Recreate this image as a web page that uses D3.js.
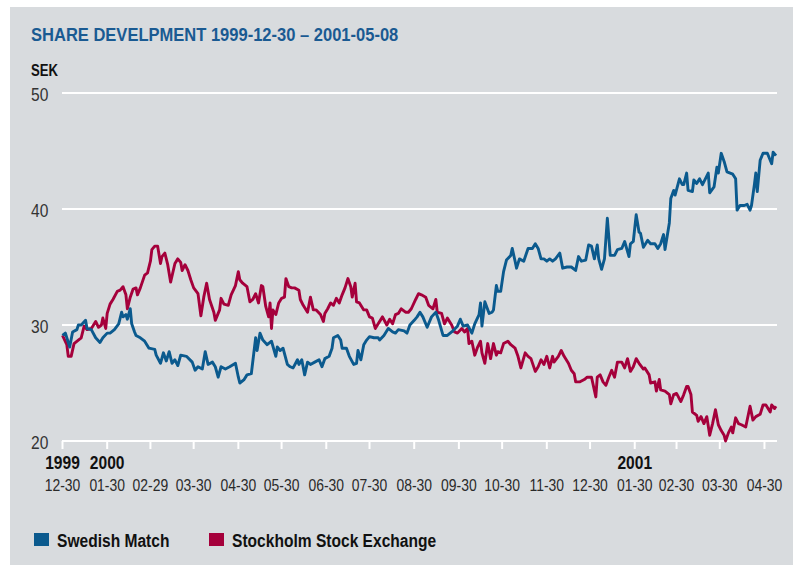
<!DOCTYPE html>
<html><head><meta charset="utf-8">
<script src="https://cdn.jsdelivr.net/npm/d3@7"></script>
<style>
html,body{margin:0;padding:0;background:#fff;}
svg text{font-family:'Liberation Sans',Arial,sans-serif;}
</style></head>
<body><svg id="c" width="793" height="565"></svg>
<script>
// ---- data ----
const startDate = new Date(1999, 11, 30);
const endDate = new Date(2001, 4, 8);
const title = "SHARE DEVELPMENT 1999-12-30 – 2001-05-08";
const unit = "SEK";
const yTicks = [20, 30, 40, 50];
const tickDates = ["1999-12-30","2000-01-30","2000-02-29","2000-03-30","2000-04-30","2000-05-30","2000-06-30","2000-07-30","2000-08-30","2000-09-30","2000-10-30","2000-11-30","2000-12-30","2001-01-30","2001-02-28","2001-03-30","2001-04-30"];
const tickLabels = ["12-30","01-30","02-29","03-30","04-30","05-30","06-30","07-30","08-30","09-30","10-30","11-30","12-30","01-30","02-30","03-30","04-30"];
const yearLabels = [["1999",0],["2000",1],["2001",13]];
const seriesNames = ["Swedish Match","Stockholm Stock Exchange"];

// days since 1999-12-30 and closing values
const smDays = [0,2,5,7,10,11,13,16,17,20,23,26,28,31,33,36,39,41,42,44,45,47,48,50,51,54,57,60,64,65,68,70,72,74,76,78,80,82,86,90,92,94,97,99,101,104,106,108,110,113,116,120,122,123,126,128,131,134,135,137,139,142,145,148,149,151,153,156,158,160,163,164,166,168,170,172,175,178,180,182,185,187,188,191,193,194,197,199,202,204,205,207,209,211,213,216,219,220,223,226,229,231,233,237,239,241,244,246,248,250,253,256,259,261,264,267,270,274,276,278,281,284,286,289,290,291,293,296,298,299,301,302,304,306,308,311,312,314,315,317,320,323,326,328,330,332,334,336,338,340,342,345,347,350,353,356,358,360,363,365,367,369,371,372,374,376,378,380,383,385,388,390,393,394,396,398,400,401,403,406,408,411,413,415,417,418,421,422,424,425,428,430,431,433,434,437,438,440,442,444,446,448,449,452,454,455,457,459,461,465,467,468,470,473,475,477,478,480,481,482,484,486,489,492,493,495];
const smValues = [29.1,29.3,28.1,29.4,29.6,30.0,30.0,30.4,29.7,29.6,28.9,28.5,28.9,29.3,29.3,29.6,30.1,31.1,30.7,30.9,30.5,31.4,30.1,29.4,29.1,28.9,28.6,28.0,27.9,27.4,26.7,27.6,26.9,27.7,26.7,27.0,26.5,27.4,27.3,26.8,26.1,26.4,26.2,27.7,26.6,26.8,26.4,25.5,26.4,26.2,26.4,26.7,25.5,25.0,25.3,25.7,25.8,28.9,27.8,29.3,28.7,28.3,28.6,27.3,28.1,27.8,28.0,26.6,26.4,26.3,27.0,26.6,27.0,25.7,26.8,26.6,26.8,27.0,26.4,27.1,27.3,28.0,28.9,29.1,28.7,28.0,28.0,27.3,26.6,26.7,27.8,27.0,28.3,28.7,29.0,28.9,28.9,28.7,29.1,29.7,29.4,29.3,29.6,29.5,29.3,30.0,30.4,30.7,31.1,30.7,29.8,30.7,31.1,30.4,29.1,29.1,29.4,29.9,30.5,29.9,30.0,29.3,30.1,30.9,31.9,29.9,32.0,31.0,31.1,31.3,33.4,32.9,32.9,34.6,35.6,36.0,36.6,35.5,34.9,35.7,35.5,36.6,36.6,37.0,36.6,35.7,35.7,35.5,35.7,35.5,35.7,36.2,34.9,35.0,35.0,34.7,35.9,35.5,35.6,36.9,36.8,35.7,36.9,35.7,34.8,35.7,39.2,36.0,36.0,36.5,36.6,37.2,35.9,37.0,37.2,39.5,38.0,37.9,36.7,37.3,37.0,37.0,36.6,37.0,37.8,36.5,38.8,40.9,41.6,41.2,42.6,42.1,42.1,43.1,41.6,41.5,42.5,42.2,42.6,42.1,42.6,43.1,41.4,41.9,43.6,43.1,44.8,44.1,43.2,43.0,42.6,39.9,40.3,40.3,40.4,39.9,40.3,42.1,43.1,41.5,44.2,44.8,44.8,43.9,44.9,44.6];

const sseDays = [0,3,4,6,8,11,13,15,17,20,21,23,25,27,28,30,31,33,35,38,40,42,44,45,47,49,51,52,54,57,59,61,62,64,66,68,69,71,73,75,78,80,82,83,85,87,89,91,94,96,98,100,102,105,106,109,110,112,115,117,120,122,123,125,128,130,132,134,136,138,139,141,143,144,145,146,148,150,152,154,155,157,159,161,164,165,167,170,172,174,176,179,181,182,184,186,188,190,192,194,196,198,200,201,203,204,206,209,211,213,215,217,219,222,225,227,229,231,233,235,238,240,242,245,247,249,252,254,257,259,260,263,265,267,270,272,274,277,279,281,282,284,286,288,290,291,293,295,297,299,301,302,304,306,309,311,314,316,318,321,323,325,328,330,332,334,336,338,340,341,344,346,348,351,353,355,356,359,362,364,367,370,371,373,375,377,379,381,383,385,388,390,392,394,396,398,400,403,404,407,408,411,412,414,415,418,421,422,424,426,429,431,433,434,436,437,440,441,443,445,447,449,451,453,455,457,459,460,462,464,465,467,469,471,474,477,479,481,484,486,488,491,492,494,495];
const sseValues = [29.1,28.3,27.3,27.3,28.4,28.7,28.9,29.9,29.6,29.7,29.9,30.3,29.8,30.0,30.6,29.7,31.0,31.8,32.2,32.9,33.0,33.3,32.6,31.4,32.4,33.1,33.2,32.6,33.2,34.3,34.5,35.5,36.5,36.8,36.8,35.3,35.9,36.2,35.2,33.7,35.3,35.7,35.4,34.7,35.2,34.7,33.9,33.2,32.7,30.8,32.4,33.6,32.2,31.1,30.4,31.3,32.3,31.8,31.7,32.6,33.4,34.6,33.9,33.6,33.3,32.0,32.2,32.7,31.9,33.4,33.3,31.6,30.7,31.9,29.7,31.3,30.9,31.9,32.3,32.4,34.0,33.3,33.2,33.2,33.0,32.2,31.7,31.1,32.4,31.3,31.3,30.9,30.3,31.0,31.4,31.9,31.7,32.3,31.9,32.6,33.2,34.0,33.3,32.4,33.6,32.0,31.9,31.3,31.3,30.7,30.6,29.7,30.1,30.7,30.0,30.5,30.1,30.9,31.0,31.4,31.1,31.1,31.4,32.2,32.7,32.6,32.4,31.7,31.4,32.2,31.1,31.0,30.1,30.6,30.0,29.4,29.3,29.7,29.4,29.7,28.4,28.6,27.4,28.1,28.6,27.6,26.7,28.4,27.1,28.4,27.4,27.7,27.6,28.4,28.6,28.3,28.0,27.3,26.3,27.6,27.3,27.1,26.0,26.4,27.0,26.6,27.3,26.3,27.3,26.8,27.3,27.8,27.3,26.7,26.1,25.8,25.1,25.1,25.3,25.5,25.5,23.8,25.5,25.7,25.1,24.8,25.5,26.1,25.5,26.8,26.8,26.3,27.1,26.0,26.4,27.1,26.7,26.2,26.3,25.7,25.0,25.1,24.3,25.3,24.4,24.3,24.0,23.2,24.0,24.1,23.4,24.0,24.7,24.7,24.0,22.5,22.2,21.7,22.1,21.5,22.1,20.5,21.5,22.7,21.4,20.9,20.5,20.0,20.7,21.2,20.7,22.0,21.5,21.4,21.2,23.0,21.8,22.1,22.3,23.1,23.1,22.5,23.1,22.8,23.0];

// ---- styles ----
const colors = ["#0b5a8e", "#a5003b"];
const titleColor = "#1a5a92";
const bg = "#d8dbde";
const narrow = 0.82; // horizontal condensing to mimic a narrow face

const svg = d3.select("#c");
svg.append("rect").attr("x", 10).attr("y", 7).attr("width", 783).attr("height", 558).attr("fill", bg);

const x = d3.scaleTime().domain([startDate, endDate]).range([62.5, 776]);
const y = d3.scaleLinear().domain([20, 50]).range([441, 93]);
const parse = d3.timeParse("%Y-%m-%d");
const dayToDate = d => d3.timeDay.offset(startDate, d);

function label(sel, fx, fy, sx) {
  return sel.attr("transform", (d, i) => `translate(${fx(d, i)},${fy(d, i)}) scale(${sx || narrow},1)`);
}

// grid lines
svg.append("g").selectAll("line").data(yTicks).join("line")
  .attr("x1", 62).attr("x2", 777)
  .attr("y1", d => y(d)).attr("y2", d => y(d))
  .attr("stroke", "#fff").attr("stroke-width", 2);

// y labels
label(svg.append("g").selectAll("text").data(yTicks).join("text"), () => 31, d => y(d) + 8)
  .attr("font-size", 19).attr("fill", "#333").text(d => d);

// x ticks
const td = tickDates.map(parse);
svg.append("g").selectAll("line").data(td).join("line")
  .attr("x1", d => x(d)).attr("x2", d => x(d))
  .attr("y1", 441).attr("y2", 449)
  .attr("stroke", "#fff").attr("stroke-width", 2);
label(svg.append("g").selectAll("text").data(td).join("text"), d => x(d), () => 491)
  .attr("text-anchor", "middle").attr("font-size", 17).attr("fill", "#2a2a2a")
  .text((d, i) => tickLabels[i]);
label(svg.append("g").selectAll("text").data(yearLabels).join("text"), d => x(td[d[1]]), () => 469)
  .attr("text-anchor", "middle").attr("font-size", 19).attr("font-weight", "bold").attr("fill", "#111")
  .text(d => d[0]);

// lines
const line = d3.line().x(d => x(dayToDate(d[0]))).y(d => y(d[1]));
const sse = sseDays.map((d, i) => [d, sseValues[i]]);
const sm = smDays.map((d, i) => [d, smValues[i]]);
svg.append("path").datum(sse).attr("d", line).attr("fill", "none")
  .attr("stroke", colors[1]).attr("stroke-width", 2.9).attr("stroke-linejoin", "round");
svg.append("path").datum(sm).attr("d", line).attr("fill", "none")
  .attr("stroke", colors[0]).attr("stroke-width", 2.9).attr("stroke-linejoin", "round");

// title & unit
label(svg.append("text").datum(title), () => 31, () => 41, 0.87)
  .attr("font-size", 19).attr("font-weight", "bold").attr("fill", titleColor).text(title);
label(svg.append("text").datum(unit), () => 31, () => 76)
  .attr("font-size", 16).attr("font-weight", "bold").attr("fill", "#111").text(unit);

// legend
const legX = [34, 209];
const lg = svg.append("g").selectAll("g").data(seriesNames).join("g")
  .attr("transform", (d, i) => `translate(${legX[i]},533)`);
lg.append("rect").attr("width", 15).attr("height", 13).attr("fill", (d, i) => colors[i]);
label(lg.append("text"), () => 23, () => 14)
  .attr("font-size", 19).attr("font-weight", "bold").attr("fill", "#111").text(d => d);
</script></body></html>
